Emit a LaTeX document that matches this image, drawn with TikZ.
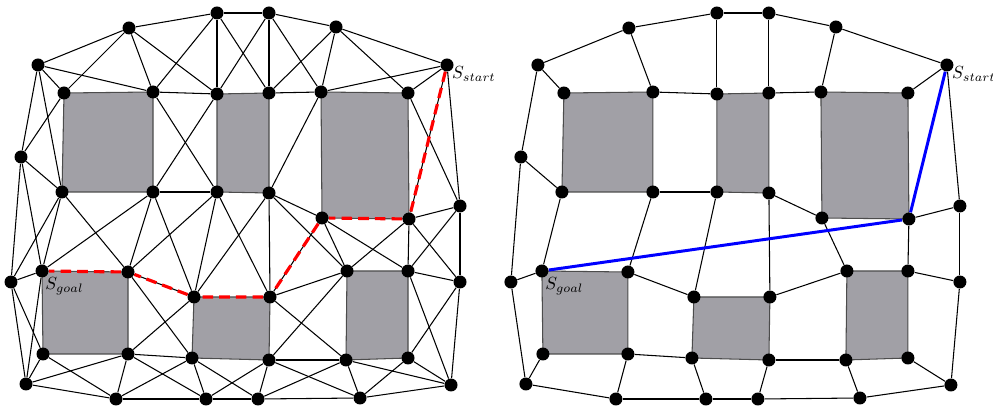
\documentclass[tikz,border=0pt]{standalone}
\usepackage{tikz}
\usetikzlibrary{positioning,backgrounds}

\definecolor{obstgray}{RGB}{161,160,166}

\tikzset{
  dot/.style={circle,fill=black,inner sep=0pt,minimum size=0.26cm},
  obst/.style={fill=obstgray,draw=black!70,line width=0.6pt},
  edge/.style={black,line width=0.6pt},
  redpath/.style={red,line width=1.8pt,dash pattern=on 6pt off 3.5pt},
  bluepath/.style={blue,line width=1.7pt},
  lbl/.style={inner sep=0pt,font=\normalsize}
}

\begin{document}
\begin{tikzpicture}[x=0.02cm,y=-0.02cm]

\useasboundingbox (0,0) rectangle (993,411);

% Nodes of both maps (right one shifted)
\foreach \p/\dx in {l/0cm,r/10cm}{
\begin{scope}[xshift=\dx]
% outer ring
\node[dot] (\p T1) at (38,65) {};
\node[dot] (\p T2) at (129,28) {};
\node[dot] (\p T3) at (217,13) {};
\node[dot] (\p T4) at (269,13) {};
\node[dot] (\p T5) at (336,27) {};
\node[dot] (\p T6) at (447,65) {};
\node[dot] (\p L1) at (21,157) {};
\node[dot] (\p L2) at (11,282) {};
\node[dot] (\p R1) at (460,206) {};
\node[dot] (\p R2) at (460,282) {};
\node[dot] (\p U1) at (26,384) {};
\node[dot] (\p U2) at (116,399) {};
\node[dot] (\p U3) at (206,399) {};
\node[dot] (\p U4) at (258,399) {};
\node[dot] (\p U5) at (360,398) {};
\node[dot] (\p U6) at (451,385) {};
% obstacle corners
\node[dot] (\p A1) at (64,93) {};
\node[dot] (\p A2) at (153,92) {};
\node[dot] (\p A3) at (62,192) {};
\node[dot] (\p A4) at (153,192) {};
\node[dot] (\p B1) at (217,94) {};
\node[dot] (\p B2) at (269,93) {};
\node[dot] (\p B3) at (217,192) {};
\node[dot] (\p B4) at (269,193) {};
\node[dot] (\p C1) at (321,92) {};
\node[dot] (\p C2) at (408,93) {};
\node[dot] (\p C3) at (322,218) {};
\node[dot] (\p C4) at (409,219) {};
\node[dot] (\p D1) at (42,271) {};
\node[dot] (\p D2) at (128,272) {};
\node[dot] (\p D3) at (43,354) {};
\node[dot] (\p D4) at (128,354) {};
\node[dot] (\p E1) at (194,297) {};
\node[dot] (\p E2) at (270,297) {};
\node[dot] (\p E3) at (192,358) {};
\node[dot] (\p E4) at (269,360) {};
\node[dot] (\p F1) at (347,271) {};
\node[dot] (\p F2) at (408,271) {};
\node[dot] (\p F3) at (346,360) {};
\node[dot] (\p F4) at (408,358) {};
\end{scope}
}

% Start and goal labels
\node[lbl,below right=-2pt and 0pt of lT6] (lStart) {$S_{start}$};
\node[lbl,below right=-2pt and 0pt of rT6] (rStart) {$S_{start}$};
\node[lbl,below right=1pt and -1pt of lD1] (lGoal) {$S_{goal}$};
\node[lbl,below right=1pt and -1pt of rD1] (rGoal) {$S_{goal}$};

\begin{pgfonlayer}{background}
% Obstacles
\foreach \p in {l,r}
  \foreach \b in {A,B,C,D,E,F}
    \filldraw[obst] (\p\b1.center) -- (\p\b2.center) -- (\p\b4.center) -- (\p\b3.center) -- cycle;

% Full graph (left)
\foreach \a/\b in {T1/T2,T2/T3,T3/T4,T4/T5,T5/T6,
  T1/A1,T1/A2,T1/L1,T1/A3,T2/A1,T2/A2,T2/B1,
  T3/A2,T3/B1,T3/B2,T4/B1,T4/B2,T4/C1,
  T5/B2,T5/C1,T5/C2,T6/C1,T6/C2,T6/C4,T6/R1,
  A1/L1,A2/B1,A2/B3,B1/A4,B2/C1,C1/B4,C2/R1,
  L1/A3,L1/L2,L1/D1,A3/L2,A3/D1,A3/D2,
  A4/B3,A4/D1,A4/D2,A4/E1,B3/D2,B3/E1,B3/E2,
  B4/E1,B4/E2,B4/C3,B4/F1,C3/E2,C3/F1,C3/F2,
  C4/F1,C4/F2,C4/R1,C4/R2,R1/F2,R1/R2,F2/R2,
  L2/D1,L2/D3,L2/U1,D1/U1,D2/E1,D2/E3,
  D3/U1,D3/U2,D4/U1,D4/U2,D4/E1,D4/E3,D4/U3,
  E2/F1,E2/F3,E3/U2,E3/U3,E3/U4,
  E4/U3,E4/U4,E4/U5,E4/F1,E4/F3,
  F3/U4,F3/U5,F3/U6,F4/R2,F4/U5,F4/U6,F2/U6,R2/U6,
  U1/U2,U2/U3,U3/U4,U4/U5,U5/U6}
  \draw[edge] (l\a) -- (l\b);

% Reduced graph (right)
\foreach \a/\b in {T1/T2,T2/T3,T3/T4,T4/T5,T5/T6,
  T1/A1,T1/L1,L1/A3,L1/L2,T2/A2,T3/B1,T4/B2,T5/C1,
  T6/C2,T6/R1,A2/B1,B2/C1,A4/B3,B4/C3,
  A3/D1,A4/D2,B3/E1,B4/E2,C3/F1,C4/R1,C4/F2,
  R1/R2,F2/R2,L2/D1,L2/U1,D2/E1,E2/F1,
  D3/U1,D4/U2,D4/E3,E3/U3,E4/U4,E4/F3,F3/U5,
  F4/U6,R2/U6,U1/U2,U2/U3,U3/U4,U4/U5,U5/U6}
  \draw[edge] (r\a) -- (r\b);

% Paths found
\draw[redpath] (lT6) -- (lC4) -- (lC3) -- (lE2) -- (lE1) -- (lD2) -- (lD1);
\draw[bluepath] (rT6) -- (rC4) -- (rD1);
\end{pgfonlayer}

\end{tikzpicture}
\end{document}
